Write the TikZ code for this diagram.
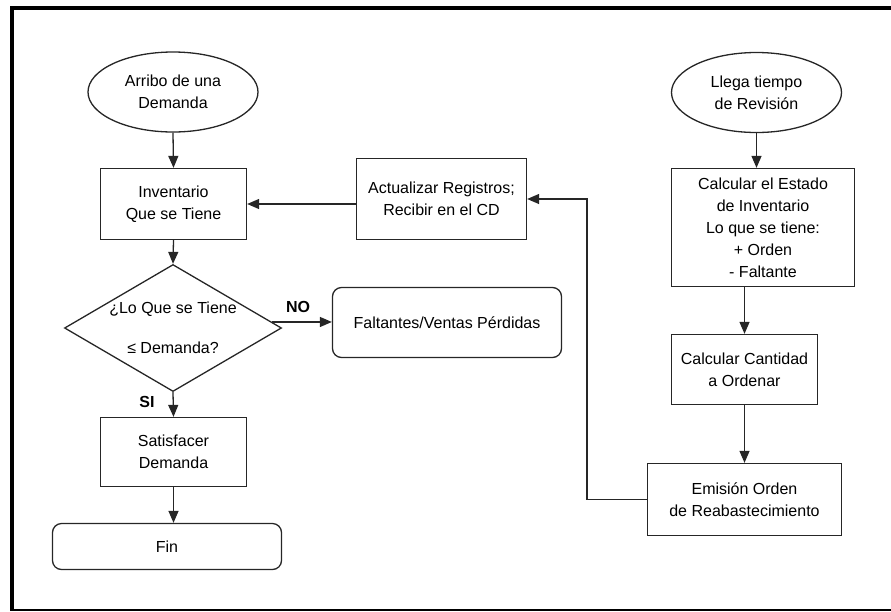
\documentclass[tikz,border=0pt]{standalone}
\usepackage{fontspec}
\setmainfont{Liberation Sans}
\usetikzlibrary{shapes.geometric,arrows.meta,calc}

\begin{document}
\begin{tikzpicture}[x=1pt,y=-1pt,
  every node/.style={font=\fontsize{16}{22}\selectfont, align=center, inner sep=0pt},
  box/.style={draw=black!85, line width=1.3pt, rectangle},
  rbox/.style={box, rounded corners=9pt},
  term/.style={draw=black!85, line width=1.3pt, ellipse},
  decision/.style={draw=black!85, line width=1.3pt, diamond, aspect=1.7},
  flow/.style={draw=black!85, line width=1.3pt, -{Triangle[length=12pt,width=10pt]}},
  tag/.style={font=\fontsize{16}{20}\selectfont\bfseries}
]
\useasboundingbox (0,0) rectangle (891,611);

% frame
\draw[line width=4pt] (891,8) -- (12,8) -- (12,611);
\draw[line width=2pt] (12,610) -- (891,610);

% left column: demand arrival
\node[term, minimum width=170pt, minimum height=80pt] (arr) at (173,92) {Arribo de una\\Demanda};
\node[box, minimum width=146pt, minimum height=71pt] (inv) at (173.5,204) {Inventario\\Que se Tiene};
\node[decision, minimum width=217pt, minimum height=127pt, font=\fontsize{16}{40}\selectfont] (dec) at (173,328) {¿Lo Que se Tiene\\≤ Demanda?};
\node[box, minimum width=146pt, minimum height=69pt] (sat) at (173.5,452) {Satisfacer\\Demanda};
\node[rbox, minimum width=229pt, minimum height=46pt] (fin) at (167,546.5) {Fin};

% middle
\node[box, minimum width=170pt, minimum height=81pt] (act) at (441.5,199) {Actualizar Registros;\\Recibir en el CD};
\node[rbox, minimum width=229pt, minimum height=70pt] (falt) at (447,322.5) {Faltantes/Ventas Pérdidas};

% right column: review cycle
\node[term, minimum width=170pt, minimum height=80pt] (rev) at (756.5,92.5) {Llega tiempo\\de Revisión};
\node[box, minimum width=183pt, minimum height=118pt] (est) at (763,227.5) {Calcular el Estado\\de Inventario\\Lo que se tiene:\\+ Orden\\- Faltante};
\node[box, minimum width=146pt, minimum height=70pt] (cant) at (744.5,369.5) {Calcular Cantidad\\a Ordenar};
\node[box, minimum width=194pt, minimum height=72pt] (emi) at (744.5,499.5) {Emisión Orden\\de Reabastecimiento};

% branch labels
\node[tag] (no) at (298,307) {NO};
\node[tag] (si) at (147,402) {SI};

% connectors
\draw[flow] (arr.south) -- (inv.north);
\draw[flow] (act.west |- inv.east) -- (inv.east);
\draw[flow] (inv.south) -- (dec.north);
\coordinate (noA) at ($(dec.east)!0.094!(dec.north)$);
\draw[flow] (noA) -- (falt.west |- noA);
\draw[flow] (dec.south) -- (sat.north);
\draw[flow] (sat.south) -- (sat.south |- fin.north);
\draw[flow] (rev.south) -- (rev.south |- est.north);
\draw[flow] (cant.north |- est.south) -- (cant.north);
\draw[flow] (cant.south) -- (emi.north);
\coordinate (loop) at (587,499.5);
\draw[flow] (emi.west) -- (loop) |- (act.east);
\end{tikzpicture}
\end{document}
